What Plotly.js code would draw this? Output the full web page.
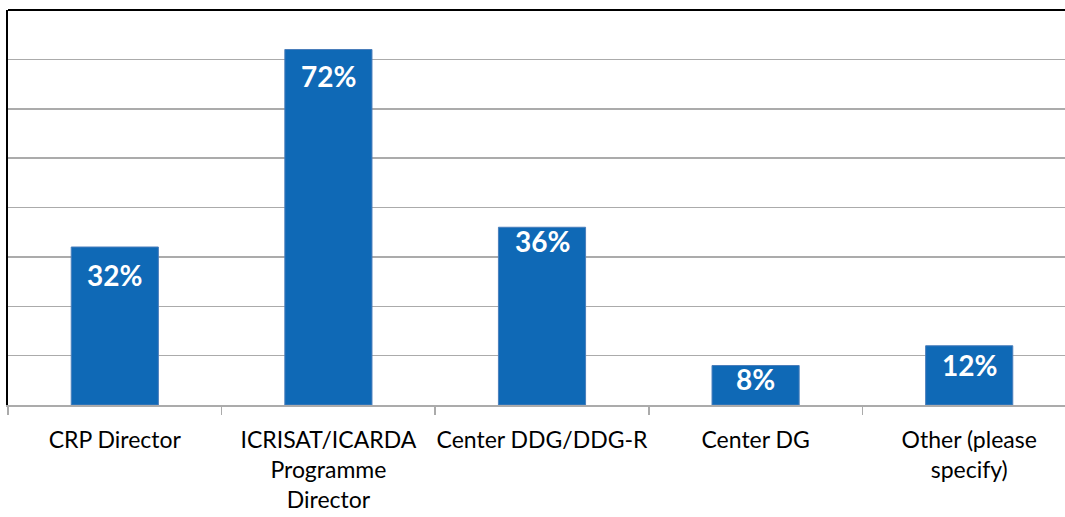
<!DOCTYPE html>
<html><head><meta charset="utf-8">
<script src="https://cdn.plot.ly/plotly-3.0.1.min.js"></script>
<style>html,body{margin:0;padding:0;overflow:hidden;background:#fff;width:1065px;height:517px}</style>
</head><body>
<div id="chart"></div>
<script>
const categories = ["CRP Director", "ICRISAT/ICARDA<br>Programme<br>Director", "Center DDG/DDG-R", "Center DG", "Other (please<br>specify)"];
const values = [32, 72, 36, 8, 12];
const labels = values.map(v => v + "%");
// style: drop of each value label below its bar top, in pixels (as placed in the original)
const labelDrop = [28, 26, 14, 13, 19];

const barColor = "#0F69B6";
const gridColor = "#ABABAB";
const fontFam = "Lato, 'Noto Sans', sans-serif";

const trace = {
  type: "bar",
  x: categories,
  y: values,
  marker: {color: barColor, line: {color: "#4A7EBB", width: 1}},
  hoverinfo: "none"
};

const annotations = categories.map((c, i) => ({
  x: c, y: values[i], xref: "x", yref: "y",
  text: "<b>" + labels[i] + "</b>",
  showarrow: false, yanchor: "middle", yshift: -labelDrop[i],
  font: {family: fontFam, size: 28, color: "#FFFFFF"}
}));

const layout = {
  width: 1076, height: 517,
  margin: {l: 8, r: 0, t: 10, b: 112},
  paper_bgcolor: "#FFFFFF", plot_bgcolor: "#FFFFFF",
  bargap: 0.592,
  showlegend: false,
  xaxis: {
    type: "category",
    showline: true, linecolor: gridColor, linewidth: 1.5,
    ticks: "outside", tickson: "boundaries", ticklen: 8, tickcolor: gridColor, tickwidth: 1.5,
    tickangle: 0,
    tickfont: {family: fontFam, size: 23, color: "#000000"},
    ticklabelstandoff: 14,
    showgrid: false, zeroline: false
  },
  yaxis: {
    range: [0, 80], dtick: 10,
    showticklabels: false, ticks: "",
    showgrid: true, gridcolor: gridColor, gridwidth: 1.5,
    showline: true, linecolor: "#000000", linewidth: 2,
    zeroline: false
  },
  shapes: [{type: "line", xref: "paper", yref: "paper", x0: 0, x1: 1, y0: 1, y1: 1,
            line: {color: "#000000", width: 2}}],
  annotations: annotations
};

Plotly.newPlot("chart", [trace], layout, {staticPlot: true, displayModeBar: false});
</script>
</body></html>
